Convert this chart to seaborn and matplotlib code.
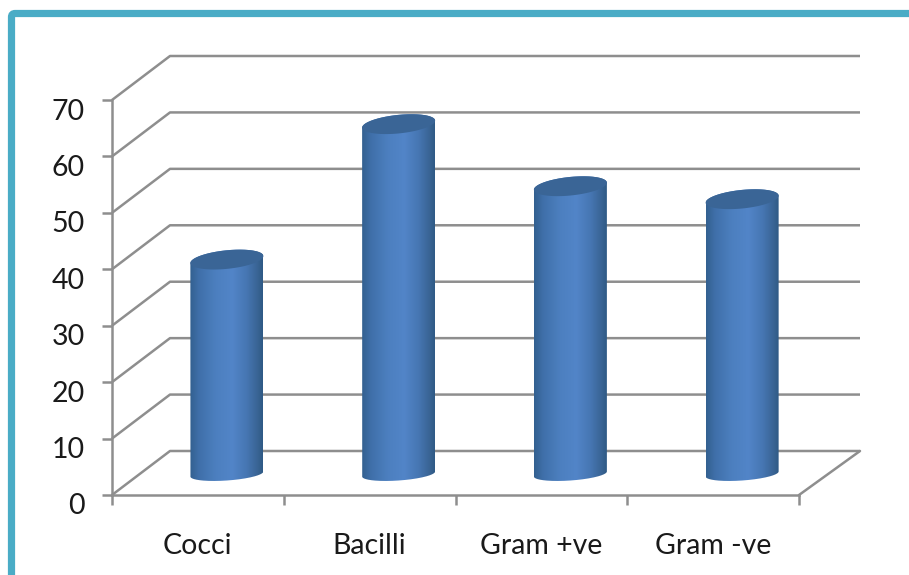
import numpy as np
import matplotlib
matplotlib.use("Agg")
import matplotlib.pyplot as plt
import matplotlib.transforms as mtrans
from matplotlib.colors import LinearSegmentedColormap
from matplotlib.patches import FancyBboxPatch
from matplotlib.path import Path
import pandas as pd
import seaborn as sns

categories = ["Cocci", "Bacilli", "Gram +ve", "Gram -ve"]
counts = [38, 62, 51, 48.7]
y_ticks = [0, 10, 20, 30, 40, 50, 60, 70]

W, H = 909, 575
LEFT, RIGHT, BOTTOM, TOP = 112, 799, 495, 100
GRID = "#8e8e8e"
TEXT = "#1a1a1a"

sns.set_theme(style="white")
plt.rcParams["font.family"] = ["Lato", "DejaVu Sans"]

fig = plt.figure(figsize=(W / 100, H / 100), dpi=100, facecolor="white")
ax = fig.add_axes([LEFT / W, 1 - BOTTOM / H, (RIGHT - LEFT) / W, (BOTTOM - TOP) / H])

df = pd.DataFrame({"group": categories, "count": counts})
sns.barplot(data=df, x="group", y="count", width=73 / 171.75, ax=ax)
ax.set_xlim(-0.5, 3.5)
ax.set_ylim(0, 70)
ax.set_xlabel("")
ax.set_ylabel("")

# pixels per data unit, used to express the oblique depth on both axes
ux = (RIGHT - LEFT) / 4
uy = (BOTTOM - TOP) / 70
depth_left, depth_right, depth_y = 58 / ux, 61 / ux, 44 / uy

# oblique walls and floor behind the plotting plane
for v in y_ticks:
    ax.plot([-0.5, -0.5 + depth_left, 3.5 + depth_right],
            [v, v + depth_y, v + depth_y],
            color=GRID, lw=1.8, clip_on=False, zorder=1, solid_capstyle="butt")
ax.plot([3.5, 3.5 + depth_right], [0, depth_y], color=GRID, lw=1.8, clip_on=False, zorder=1)

# cylinders: each bar's geometry sets the body, shaded across its width
shade = LinearSegmentedColormap.from_list(
    "cylinder",
    [(0.0, "#33608f"), (0.12, "#3f6fa9"), (0.35, "#4c7fbf"), (0.58, "#5285c8"),
     (0.78, "#4676b2"), (0.92, "#3a6596"), (1.0, "#2f5a85")],
)
gradient = np.linspace(0, 1, 256).reshape(1, -1)
base = 21 / uy
shift = 29 / ux
t = np.linspace(0, 2 * np.pi, 181)


def ellipse(cx, cy, a, b, s, angles):
    return (cx + a * np.cos(angles) / ux,
            cy + (b * np.sin(angles) + s * np.cos(angles)) / uy)


for bar in list(ax.patches):
    cx = bar.get_x() + bar.get_width() / 2 + shift
    a = bar.get_width() / 2 * ux
    top = base + bar.get_height()
    bar.set_visible(False)

    up_x, up_y = ellipse(cx, top, a, 9.3, 3.5, np.linspace(0, np.pi, 91))
    low_x, low_y = ellipse(cx, base, a, 6.5, 2.5, np.linspace(np.pi, 2 * np.pi, 91))
    outline = np.column_stack([np.r_[up_x, low_x], np.r_[up_y, low_y]])

    im = ax.imshow(gradient, cmap=shade, aspect="auto", zorder=3, interpolation="bilinear",
                   extent=[cx - a / ux, cx + a / ux, base - 2, top + 3])
    im.set_clip_path(Path(outline), transform=ax.transData)

    cap_x, cap_y = ellipse(cx, top, a, 9.3, 3.5, t)
    ax.fill(cap_x, cap_y, color="#3a6596", lw=0, zorder=4)

ax.set_xlim(-0.5, 3.5)
ax.set_ylim(0, 70)

# axes, ticks and labels
sns.despine(ax=ax)
for side in ("left", "bottom"):
    ax.spines[side].set_color(GRID)
    ax.spines[side].set_linewidth(1.8)
    ax.spines[side].set_zorder(5)

ax.set_yticks(y_ticks)
ax.set_xticks(range(len(categories)))
ax.set_xticklabels(categories)
ax.set_xticks(np.arange(-0.5, 4, 1), minor=True)
ax.tick_params(axis="x", which="major", length=0, pad=27, labelsize=20.5, labelcolor=TEXT)
ax.tick_params(axis="x", which="minor", bottom=True, length=7.5, width=1.8, color=GRID)
ax.tick_params(axis="y", length=7.5, width=1.8, color=GRID, pad=12, labelsize=20.5,
               labelcolor=TEXT, left=True)

down = mtrans.ScaledTranslation(0, -9 / 100, fig.dpi_scale_trans)
for lab in ax.get_yticklabels():
    lab.set_transform(lab.get_transform() + down)

# slide frame running off the right and lower edges
frame = FancyBboxPatch((11.5 / W, 1 - 640 / H), 1000 / W, (640 - 13.5) / H,
                       boxstyle="round,pad=0,rounding_size=0.004",
                       transform=fig.transFigure, fill=False, edgecolor="#4aacc6",
                       lw=5.2, mutation_aspect=W / H, clip_on=False)
fig.add_artist(frame)

fig.savefig("out.png", dpi=100, facecolor="white")
